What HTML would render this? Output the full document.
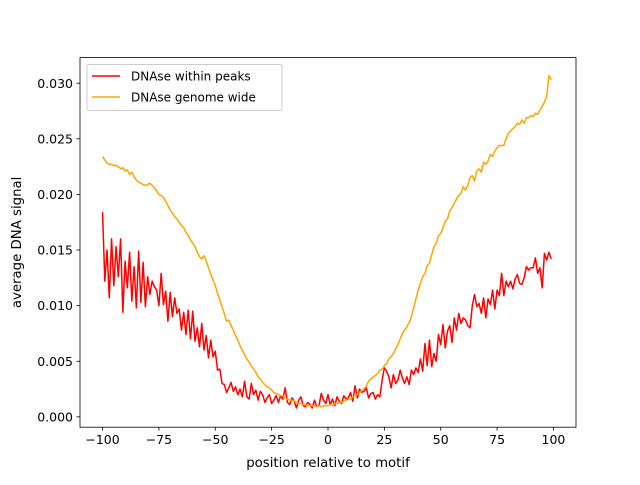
<!DOCTYPE html>
<html><head><meta charset="utf-8"><style>
body{margin:0;background:#fff;}
svg{font-family:"DejaVu Sans","Liberation Sans",sans-serif;}
</style></head><body>
<svg id="chart" width="640" height="480" viewBox="0 0 640 480">
<rect width="640" height="480" fill="#fff"/>
<g id="plot"></g>
</svg>
<script>
const xs = [];
for (let i = -100; i <= 99; i++) xs.push(i);
const withinPeaks = [
18.4,12.2,15.0,10.7,16.0,11.8,15.3,12.6,16.0,9.4,
14.0,11.6,14.8,10.4,13.5,9.8,14.9,10.3,13.9,9.9,
12.6,11.0,12.2,11.7,11.4,10.0,12.9,10.1,11.3,8.6,
11.2,9.0,10.7,9.3,9.7,7.8,9.4,7.4,9.6,7.0,
9.5,6.8,8.0,6.3,8.4,6.0,7.3,5.3,6.9,5.4,
5.9,4.2,4.3,3.0,2.9,2.2,2.6,3.1,2.3,2.7,
2.0,2.5,1.8,3.2,1.8,1.6,3.0,2.0,2.4,1.5,
2.3,2.0,1.3,1.7,2.0,1.2,1.5,1.9,1.3,1.9,
1.6,2.6,1.3,1.1,1.7,1.4,0.8,1.5,1.8,1.0,
0.9,1.3,1.1,0.8,1.5,0.9,1.0,2.1,1.5,1.2,
2.0,1.1,1.6,1.0,1.8,1.4,1.2,1.9,1.6,1.7,
2.2,1.4,2.8,1.7,2.5,2.2,2.3,2.6,1.7,2.1,
2.2,1.6,2.0,1.8,3.3,4.4,4.1,3.6,2.6,3.8,
3.0,3.3,4.2,3.5,3.0,3.6,2.9,4.2,3.8,4.4,
4.0,5.2,4.1,6.6,4.6,6.9,4.5,5.7,5.0,7.4,
6.5,8.3,6.2,7.7,8.2,6.7,8.9,7.8,9.3,8.4,
8.9,8.7,8.2,8.0,10.0,11.0,9.9,10.2,9.3,10.7,
8.9,10.6,10.1,11.4,9.7,11.4,10.9,12.9,10.9,12.2,
11.7,12.2,11.5,12.4,12.8,12.0,11.9,12.5,13.5,13.2,
13.4,13.4,14.3,12.9,13.4,11.6,14.7,14.1,14.8,14.2];
const genomeWide = [
23.4,23.1,22.8,22.7,22.7,22.6,22.6,22.5,22.3,22.4,
22.1,22.2,21.8,22.0,21.6,21.3,21.1,21.0,20.9,20.8,
20.9,21.0,20.8,20.6,20.3,20.0,19.9,19.7,19.4,19.0,
18.6,18.3,18.0,17.8,17.5,17.2,17.0,16.6,16.3,15.9,
15.6,15.3,14.8,14.4,14.2,14.5,14.0,13.4,12.8,12.3,
11.8,11.1,10.5,9.9,9.3,8.6,8.7,8.2,7.8,7.3,
6.9,6.4,6.0,5.6,5.2,4.9,4.6,4.3,4.0,3.6,
3.4,3.1,2.9,2.7,2.6,2.4,2.2,2.1,2.0,1.9,
1.9,1.7,1.6,1.5,1.5,1.4,1.3,1.2,1.2,1.1,
1.1,1.0,1.0,1.0,1.0,0.9,1.0,0.9,1.0,1.0,
1.0,1.1,1.0,1.2,1.2,1.3,1.3,1.4,1.5,1.6,
1.6,1.8,1.9,2.0,2.2,2.4,2.5,2.8,3.2,3.4,
3.6,3.7,3.9,4.2,4.3,4.6,4.8,5.2,5.4,5.7,
6.1,6.5,7.0,7.5,7.8,8.1,8.5,9.0,9.8,10.6,
11.4,12.0,12.6,12.9,13.6,13.8,14.6,15.3,15.6,16.3,
16.5,17.0,17.6,17.8,18.5,18.8,19.2,19.6,19.9,20.1,
20.7,20.4,20.8,21.5,21.7,21.2,22.1,22.3,22.0,22.9,
22.7,23.0,23.6,23.4,23.9,24.2,24.4,24.4,24.4,25.0,
25.5,25.7,25.9,26.1,26.4,26.3,26.7,26.4,26.9,26.9,
27.1,27.0,27.3,27.2,27.6,27.9,28.3,28.8,30.7,30.3];
const xTicks = [-100,-75,-50,-25,0,25,50,75,100];
const yTicks = [0,0.005,0.010,0.015,0.020,0.025,0.030];
const yTickLabels = ["0.000","0.005","0.010","0.015","0.020","0.025","0.030"];

const L=80,R=576,T=57.6,B=427.2;
const xMin=-110,xMax=110,yMin=-0.00093,yMax=0.0323;
const xS=v=>L+(v-xMin)/(xMax-xMin)*(R-L);
const yS=v=>B-(v-yMin)/(yMax-yMin)*(B-T);
const NS="http://www.w3.org/2000/svg";
const g=document.getElementById('plot');
function mk(tag,attrs,parent){const e=document.createElementNS(NS,tag);for(const k in attrs)e.setAttribute(k,attrs[k]);(parent||g).appendChild(e);return e;}

function series(vals,color,name){
  const d=vals.map((v,i)=>(i?'L':'M')+xS(xs[i]).toFixed(2)+' '+yS(v/1000).toFixed(2)).join(' ');
  const p=mk('path',{d:d,fill:'none',stroke:color,'stroke-width':1.5,'stroke-linejoin':'round'});
  
  
}
series(withinPeaks,'#ff0000','series-dnase-within-peaks');
series(genomeWide,'#ffa500','series-dnase-genome-wide');

const frame=mk('rect',{x:L,y:T,width:R-L,height:B-T,fill:'none',stroke:'#000','stroke-width':0.8});



xTicks.forEach(t=>{
  const x=xS(t);
  mk('line',{x1:x,x2:x,y1:B,y2:B+3.5,stroke:'#000','stroke-width':0.8});
  const tx=mk('text',{x:x,y:B+17,'text-anchor':'middle','font-size':'12.5',fill:'#000'});
  tx.textContent=(t<0?'\u2212'+(-t):t);
  
  
});
yTicks.forEach((t,i)=>{
  const y=yS(t);
  mk('line',{x1:L-3.5,x2:L,y1:y,y2:y,stroke:'#000','stroke-width':0.8});
  const tx=mk('text',{x:L-7,y:y+4.6,'text-anchor':'end','font-size':'12.5',fill:'#000'});
  tx.textContent=yTickLabels[i];
  
  
});
const xt=mk('text',{x:(L+R)/2,y:467,'text-anchor':'middle','font-size':'13.3'});
xt.textContent='position relative to motif';


const yt=mk('text',{x:21,y:(T+B)/2,'text-anchor':'middle','font-size':'13.3',transform:'rotate(-90 21 '+((T+B)/2)+')'});
yt.textContent='average DNA signal';



const lg=mk('g',{});


mk('rect',{x:87,y:64.5,width:195,height:46,rx:2,fill:'#fff','fill-opacity':0.8,stroke:'#ccc','stroke-width':1},lg);
const entries=[['DNAse within peaks','#ff0000'],['DNAse genome wide','#ffa500']];
entries.forEach((e,i)=>{
  const y=76+i*21;
  const ln=mk('line',{x1:92,x2:120,y1:y,y2:y,stroke:e[1],'stroke-width':1.5},lg);
  
  
  const t=mk('text',{x:131,y:y+4.5,'font-size':'12'},lg);
  t.textContent=e[0];
  
  
});
</script>
</body></html>
